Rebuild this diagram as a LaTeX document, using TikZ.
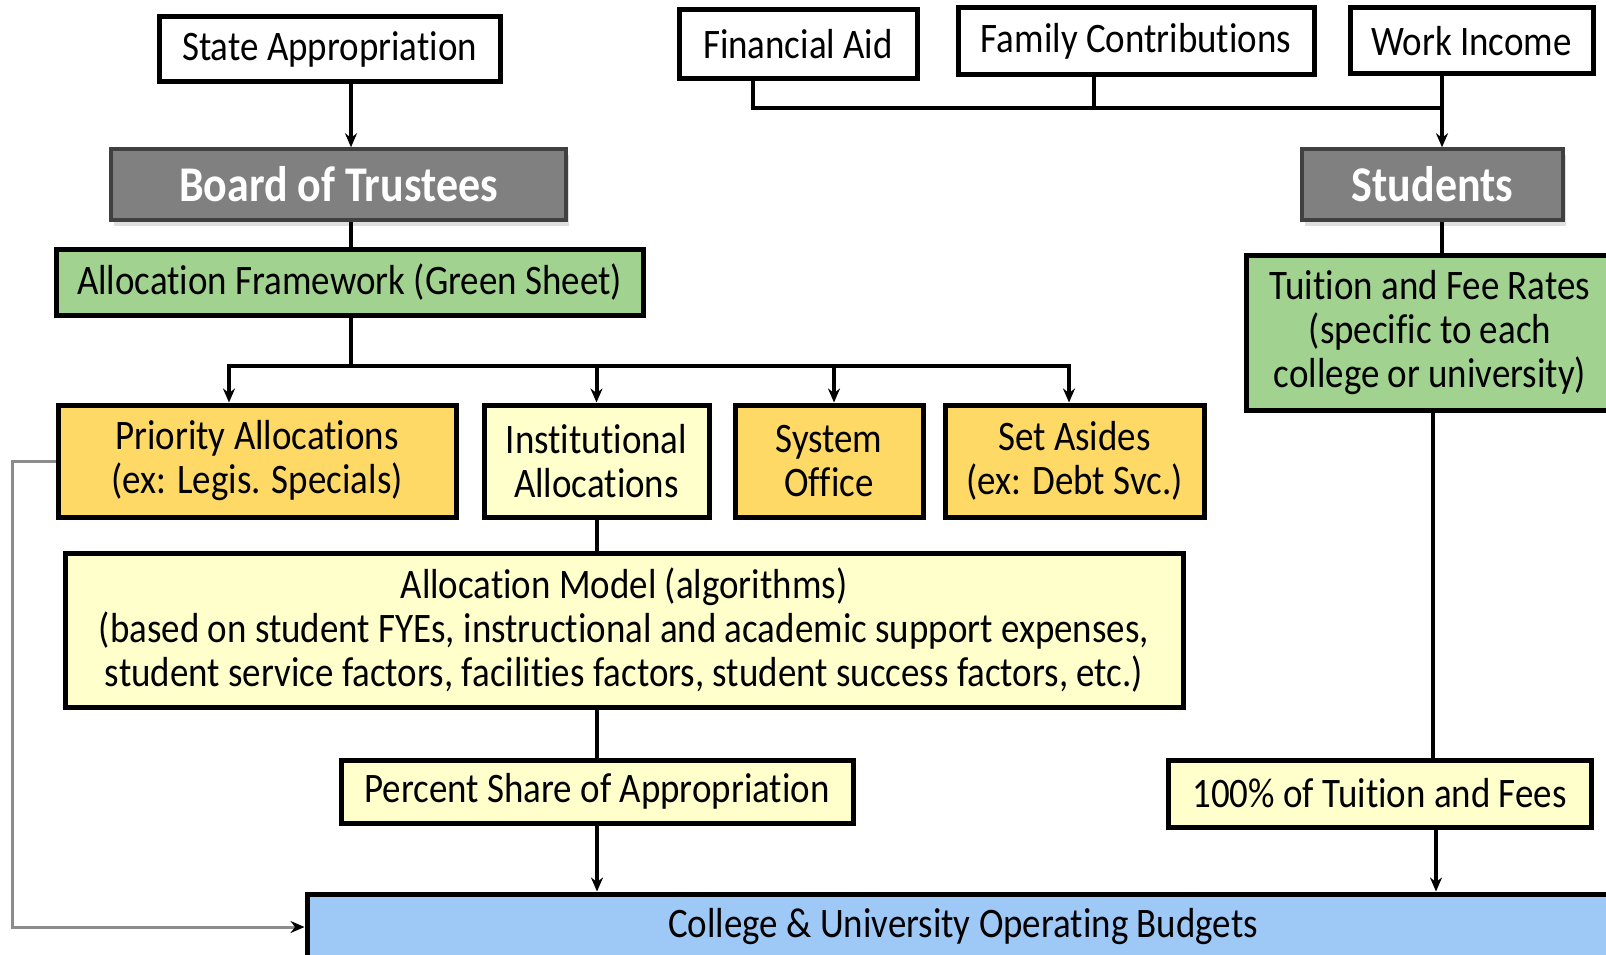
\documentclass[tikz,border=0pt]{standalone}
\usepackage{fontspec}
\setmainfont{Carlito}[FakeStretch=0.88, RawFeature=-liga]
\usepackage{tikz}
\usetikzlibrary{positioning,arrows.meta,shadows}

\definecolor{gsheet}{RGB}{161,210,143}
\definecolor{gold}{RGB}{255,217,102}
\definecolor{cream}{RGB}{255,255,204}
\definecolor{budgetblue}{RGB}{158,201,247}
\definecolor{trustgray}{RGB}{128,128,128}
\newcommand{\boxfont}{\fontsize{42}{44}\selectfont}
\newcommand{\headfont}{\bfseries\fontsize{50}{52}\selectfont}

\begin{document}
\begin{tikzpicture}[
  x=1pt, y=-1pt,
  fbox/.style={draw, line width=5pt, fill=white, inner sep=0pt, align=center, font=\boxfont},
  headbox/.style={fbox, fill=trustgray, draw=black!75, line width=3.5pt, text=white, font=\headfont,
    drop shadow={shadow xshift=3pt, shadow yshift=-6pt, fill=black!25}},
  link/.style={line width=4pt},
  >={Stealth[length=14pt,width=12pt]}
]
\useasboundingbox (0,0) rectangle (1606,955);

% Sources
\node[fbox, minimum width=341, minimum height=65] (stateapp) at (329.5,49.5) {State Appropriation};
\node[fbox, minimum width=238, minimum height=69] (finaid) at (798,44.5) {Financial Aid};
\node[fbox, minimum width=356, minimum height=67] (family) at (1136,41.5) {Family Contributions};
\node[fbox, minimum width=243, minimum height=66] (work) at (1471.5,41) {Work Income};

% Deciders
\node[headbox, minimum width=455, minimum height=71] (board) at (338.5,184.5) {Board of Trustees};
\node[headbox, minimum width=261, minimum height=71] (students) at (1432.5,184.5) {Students};

% Rules
\node[fbox, fill=gsheet, minimum width=587, minimum height=66] (framework) at (349.5,282) {Allocation Framework (Green Sheet)};
\node[fbox, fill=gsheet, minimum width=368, minimum height=155] (tuition) at (1430,332.5) {Tuition and Fee Rates\\(specific to each\\college or university)};

% Allocation pools
\node[fbox, fill=gold, minimum width=398, minimum height=112] (priority) at (257,461) {Priority Allocations\\(ex: Legis. Specials)};
\node[fbox, fill=cream, minimum width=225, minimum height=112] (instit) at (596.5,461) {Institutional\\Allocations};
\node[fbox, fill=gold, minimum width=188, minimum height=112] (sysoff) at (829,461) {System\\Office};
\node[fbox, fill=gold, minimum width=259, minimum height=112] (setaside) at (1074.5,461) {Set Asides\\(ex: Debt Svc.)};

% Model and shares
\node[fbox, fill=cream, minimum width=1118, minimum height=154] (model) at (624,630) {Allocation Model (algorithms)\\(based on student FYEs, instructional and academic support expenses,\\student service factors, facilities factors, student success factors, etc.)};
\node[fbox, fill=cream, minimum width=512, minimum height=63] (percent) at (597,791.5) {Percent Share of Appropriation};
\node[fbox, fill=cream, minimum width=423, minimum height=67] (hundred) at (1379.5,793.5) {100\% of Tuition and Fees};
\node[fbox, fill=budgetblue, minimum width=1312, minimum height=66] (budgets) at (963,927) {College \& University Operating Budgets};

% Bus points
\coordinate (fbus) at (351,366);
\coordinate (tbus) at (1442,108);
\coordinate (sidebar) at (12,0);

% State side
\draw[link,->] (stateapp.south -| fbus) -- (board.north -| fbus);
\draw[link] (board.south -| fbus) -- (framework.north -| fbus);
\draw[link] (framework.south -| fbus) -- (fbus);
\draw[link,->] (fbus) -| ([xshift=-28pt]priority.north);
\draw[link,->] (fbus) -| (instit.north);
\draw[link,->] (fbus) -| ([xshift=5pt]sysoff.north);
\draw[link,->] (fbus) -| ([xshift=-5.5pt]setaside.north);
\draw[link] (instit.south) -- (instit.south |- model.north);
\draw[link] (instit.south |- model.south) -- (instit.south |- percent.north);
\draw[link,->] (percent.south) -- (percent.south |- budgets.north);

% Student side
\draw[link] ([xshift=-45pt]finaid.south) |- (tbus);
\draw[link] ([xshift=-42pt]family.south) -- ([xshift=-42pt]family.south |- tbus);
\draw[link] (work.south -| tbus) -- (tbus);
\draw[link,->] (tbus) -- (students.north -| tbus);
\draw[link] (students.south -| tbus) -- (tuition.north -| tbus);
\draw[link] ([xshift=3pt]tuition.south) -- ([xshift=3pt]tuition.south |- hundred.north);
\draw[link,->] ([xshift=56.5pt]hundred.south) -- ([xshift=56.5pt]hundred.south |- budgets.north);

% Priority bypass
\draw[line width=3pt, black!45, -{Stealth[length=14pt,width=12pt,black]}] (priority.west) -- (priority.west -| sidebar) |- (budgets.west);

\end{tikzpicture}
\end{document}
